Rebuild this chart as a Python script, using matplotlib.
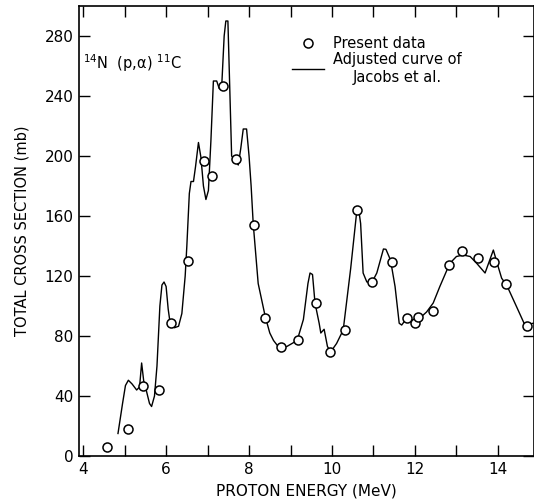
import numpy as np
import matplotlib
matplotlib.use("Agg")
import matplotlib.pyplot as plt

# adjusted curve of Jacobs et al. (traced)
curve_e = [4.84, 4.95, 5.02, 5.09, 5.18, 5.29, 5.36, 5.41, 5.46, 5.52, 5.60, 5.65,
           5.72, 5.78, 5.85, 5.90, 5.95, 6.00, 6.05, 6.10, 6.20, 6.30, 6.38, 6.46,
           6.50, 6.56, 6.60, 6.66, 6.71, 6.78, 6.84, 6.90, 6.96, 7.02, 7.08, 7.14,
           7.22, 7.28, 7.34, 7.40, 7.44, 7.49, 7.53, 7.58, 7.66, 7.74, 7.80, 7.86,
           7.94, 8.00, 8.05, 8.10, 8.22, 8.39, 8.50, 8.59, 8.73, 8.91, 9.16, 9.31,
           9.42, 9.47, 9.53, 9.59, 9.69, 9.73, 9.81, 9.89, 9.97, 10.11, 10.27, 10.45,
           10.60, 10.65, 10.69, 10.75, 10.84, 10.96, 11.08, 11.24, 11.30, 11.41, 11.52,
           11.62, 11.68, 11.80, 11.92, 12.04, 12.16, 12.28, 12.44, 12.60, 12.84, 13.00,
           13.16, 13.33, 13.49, 13.69, 13.89, 13.97, 14.09, 14.21, 14.45, 14.65, 14.85]
curve_sigma = [15, 35, 47, 50.5, 48, 44, 46, 62, 50, 44, 35, 33,
               40, 60, 100, 114, 116, 113, 98, 88, 85.5, 86.5, 95, 120,
               140, 175, 183, 183, 193, 209, 199, 180, 171, 177, 210, 250,
               250, 245, 246, 280, 290, 290, 250, 200, 197, 194, 205, 218,
               218, 200, 180, 155, 115, 93, 82, 77, 72, 73, 77, 91,
               115, 122, 121, 102, 88.5, 82, 84.5, 73, 69.5, 75, 84, 125,
               164, 163, 155, 122, 116, 115.6, 122, 138, 137.8, 130.7, 113,
               88.5, 87.3, 91.8, 91.1, 88.5, 93, 96, 102, 113, 128.4, 133,
               134, 133, 128.4, 122, 137.3, 129.6, 118.5, 114, 99.5, 87.3, 88.5]

# present data
data_e = [4.58, 5.08, 5.44, 5.83, 6.12, 6.54, 6.92, 7.11, 7.38, 7.69, 8.13, 8.39,
          8.76, 9.17, 9.61, 9.95, 10.31, 10.61, 10.96, 11.44, 11.80, 12.00, 12.07,
          12.44, 12.82, 13.14, 13.51, 13.91, 14.19, 14.69]
data_sigma = [6.2, 17.8, 46.7, 44, 89, 130, 196.7, 186.9, 247, 198, 154, 92,
              73, 77.3, 101.8, 69.5, 84, 164, 115.8, 129.6, 92, 89, 93,
              96.7, 127.3, 137, 132, 129.6, 114.4, 86.7]

plt.rcParams['font.family'] = ['DejaVu Sans']
fig = plt.figure(figsize=(5.34, 5.0), dpi=100)
ax = fig.add_axes([79/534, 44/500, 455/534, 450/500])

ax.plot(curve_e, curve_sigma, color='black', lw=1.0, zorder=2,
        label='Adjusted curve of\nJacobs et al.')
ax.plot(data_e, data_sigma, 'o', ms=6.5, mfc='white', mec='black', mew=1.1,
        zorder=3, label='Present data')

ax.set_xlim(3.9, 14.87)
ax.set_ylim(0, 300)
ax.set_xticks([4, 6, 8, 10, 12, 14])
ax.set_xticks([5, 7, 9, 11, 13], minor=True)
ax.set_yticks(np.arange(0, 281, 40))
ax.tick_params(which='both', direction='in', length=8, width=1.0,
               top=True, right=True, labelsize=11, pad=4)

for s in ax.spines.values():
    s.set_linewidth(1.2)

ax.set_xlabel('PROTON ENERGY (MeV)', fontsize=11, labelpad=5)
ax.set_ylabel('TOTAL CROSS SECTION (mb)', fontsize=10.5, labelpad=11)

ax.text(4.0, 258, r'$^{14}$N  (p,α) $^{11}$C', fontsize=10.5)

h, l = ax.get_legend_handles_labels()
leg = ax.legend(h[::-1], l[::-1], loc='upper left', bbox_to_anchor=(0.452, 0.95),
                frameon=False, fontsize=10.5, handlelength=2.2,
                handletextpad=0.6, labelspacing=0.1, borderpad=0)
for t in leg.get_texts():
    t.set_multialignment('center')

fig.savefig('out.png', dpi=100)
